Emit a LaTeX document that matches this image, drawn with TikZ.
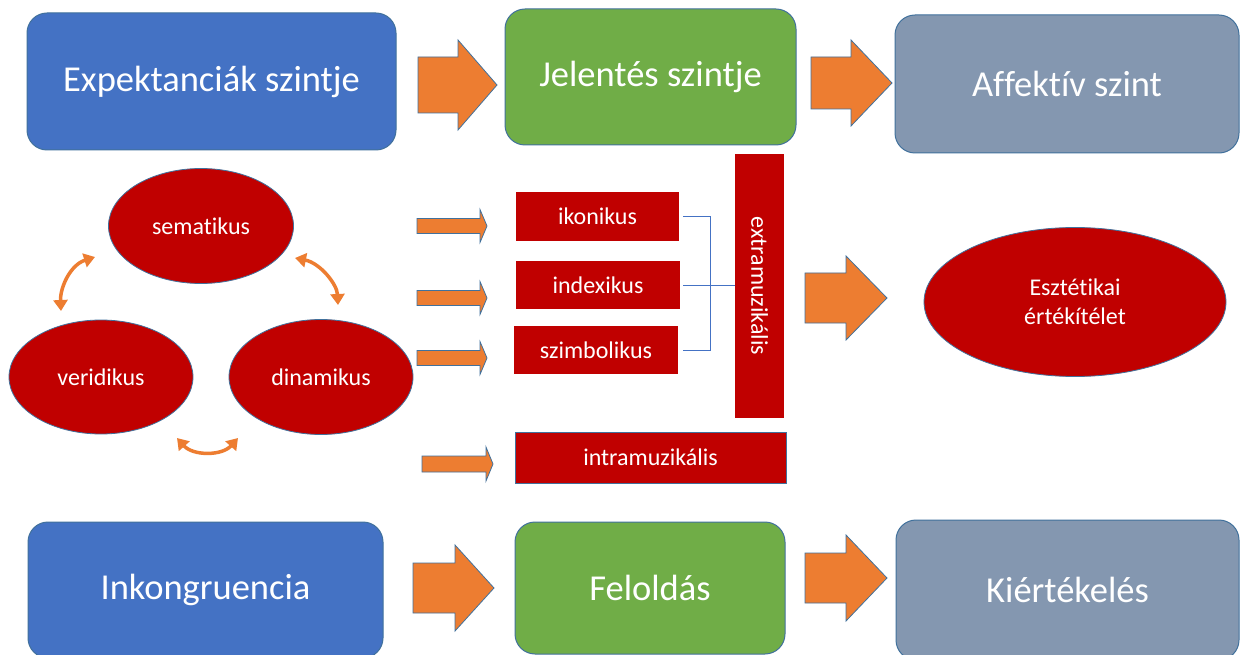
\documentclass[tikz,border=0pt]{standalone}
\usepackage{fontspec}
\setmainfont[Ligatures={NoCommon}]{Carlito}
\usetikzlibrary{shapes.geometric,arrows.meta}
\definecolor{cblue}{HTML}{4472C4}
\definecolor{cgreen}{HTML}{70AD47}
\definecolor{cgray}{HTML}{8497B0}
\definecolor{corange}{HTML}{ED7D31}
\definecolor{cred}{HTML}{C00000}
\definecolor{cedge}{HTML}{41719C}
% shaft left, head base, tip, y centre, shaft half height, head half height
\newcommand{\blockarr}[6]{%
  \draw[barrow] (#1,{#4-#5}) -- (#2,{#4-#5}) -- (#2,{#4-#6}) -- (#3,#4)
    -- (#2,{#4+#6}) -- (#2,{#4+#5}) -- (#1,{#4+#5}) -- cycle;}
\tikzset{
  bigbox/.style={rectangle, rounded corners=20pt, draw=cedge, line width=1pt,
    text=white, font=\fontsize{36.5}{43}\selectfont, inner sep=0pt},
  redbox/.style={rectangle, fill=cred, text=white, inner sep=0pt,
    font=\fontsize{24}{29}\selectfont},
  ell/.style={ellipse, fill=cred, draw=cedge, line width=0.8pt, text=white,
    inner sep=0pt, font=\fontsize{24}{29}\selectfont},
  barrow/.style={fill=corange, draw=cedge, line width=0.8pt, line join=miter},
  brk/.style={draw=cblue, line width=0.9pt},
  dbl/.style={draw=corange, line width=3.5pt,
    {Triangle[length=11pt,width=14pt]}-{Triangle[length=11pt,width=14pt]}}
}
\begin{document}
\begin{tikzpicture}[x=1pt,y=-1pt]
\useasboundingbox[fill=white] (0,0) rectangle (1240,655);

% top row
\node[bigbox, fill=cblue, minimum width=369pt, minimum height=137pt] (exp) at (211.5,81.5) {Expektanciák szintje};
\node[bigbox, fill=cgreen, minimum width=291pt, minimum height=136pt] (jel) at (650.5,77) {Jelentés szintje};
\node[bigbox, fill=cgray, minimum width=344pt, minimum height=138pt] (aff) at (1067,84) {Affektív szint};
\blockarr{418}{458}{497}{85}{28}{45}
\blockarr{811}{851}{892}{83}{26}{43}

% bottom row
\node[bigbox, fill=cblue, minimum width=355pt, minimum height=136pt] (ink) at (205.5,590) {Inkongruencia};
\node[bigbox, fill=cgreen, minimum width=270pt, minimum height=132pt] (fel) at (650,588) {Feloldás};
\node[bigbox, fill=cgray, minimum width=343pt, minimum height=140pt] (kie) at (1067.5,590) {Kiértékelés};
\blockarr{413}{455}{494}{588}{25}{43}
\blockarr{805}{846}{887}{578}{25}{43}

% ellipses
\node[ell, minimum width=185pt, minimum height=115pt] (sem) at (201,226) {sematikus};
\node[ell, minimum width=184pt, minimum height=114pt] (ver) at (101,377) {veridikus};
\node[ell, minimum width=184pt, minimum height=115pt] (din) at (321,377) {dinamikus};

\coordinate (l1) at (95,257);  \coordinate (l2) at (61,311);
\coordinate (r1) at (295,258); \coordinate (r2) at (338,305);
\coordinate (b1) at (177,438); \coordinate (b2) at (238,438);
\draw[dbl] (l1) .. controls (70,265) and (60,288) .. (l2);
\draw[dbl] (r1) .. controls (320,263) and (337,284) .. (r2);
\draw[dbl] (b1) .. controls (193,456) and (222,456) .. (b2);

% small arrows
\blockarr{417}{480}{487}{226}{7.5}{16.5}
\blockarr{417}{480}{487}{298}{7.5}{16.5}
\blockarr{417}{480}{487}{358}{7.5}{16.5}
\blockarr{422}{486}{493}{464}{8}{17}

% red boxes
\node[redbox, minimum width=163pt, minimum height=49pt] (ikon) at (597.5,216.5) {ikonikus};
\node[redbox, minimum width=164pt, minimum height=48pt] (index) at (598,285) {indexikus};
\node[redbox, minimum width=164pt, minimum height=48pt] (szim) at (596,350) {szimbolikus};
\node[redbox, draw=cedge, line width=0.8pt, minimum width=271pt, minimum height=51pt] (intra) at (650.5,457.5) {intramuzikális};
\node[redbox, rotate=-90, minimum width=264pt, minimum height=49pt] (extra) at (759.5,286) {extramuzikális};

% bracket
\draw[brk] ([xshift=4pt]ikon.east) -- ++(27,0) |- ([xshift=5pt]szim.east);
\draw[brk] ([xshift=3pt]index.east) -- (index.east -| extra.south);

% to aesthetic judgement
\blockarr{805}{846}{887}{298}{25}{42}
\node[ell, minimum width=302pt, minimum height=149pt, align=center] (esz) at (1075,302) {Esztétikai\\értékítélet};
\end{tikzpicture}
\end{document}
